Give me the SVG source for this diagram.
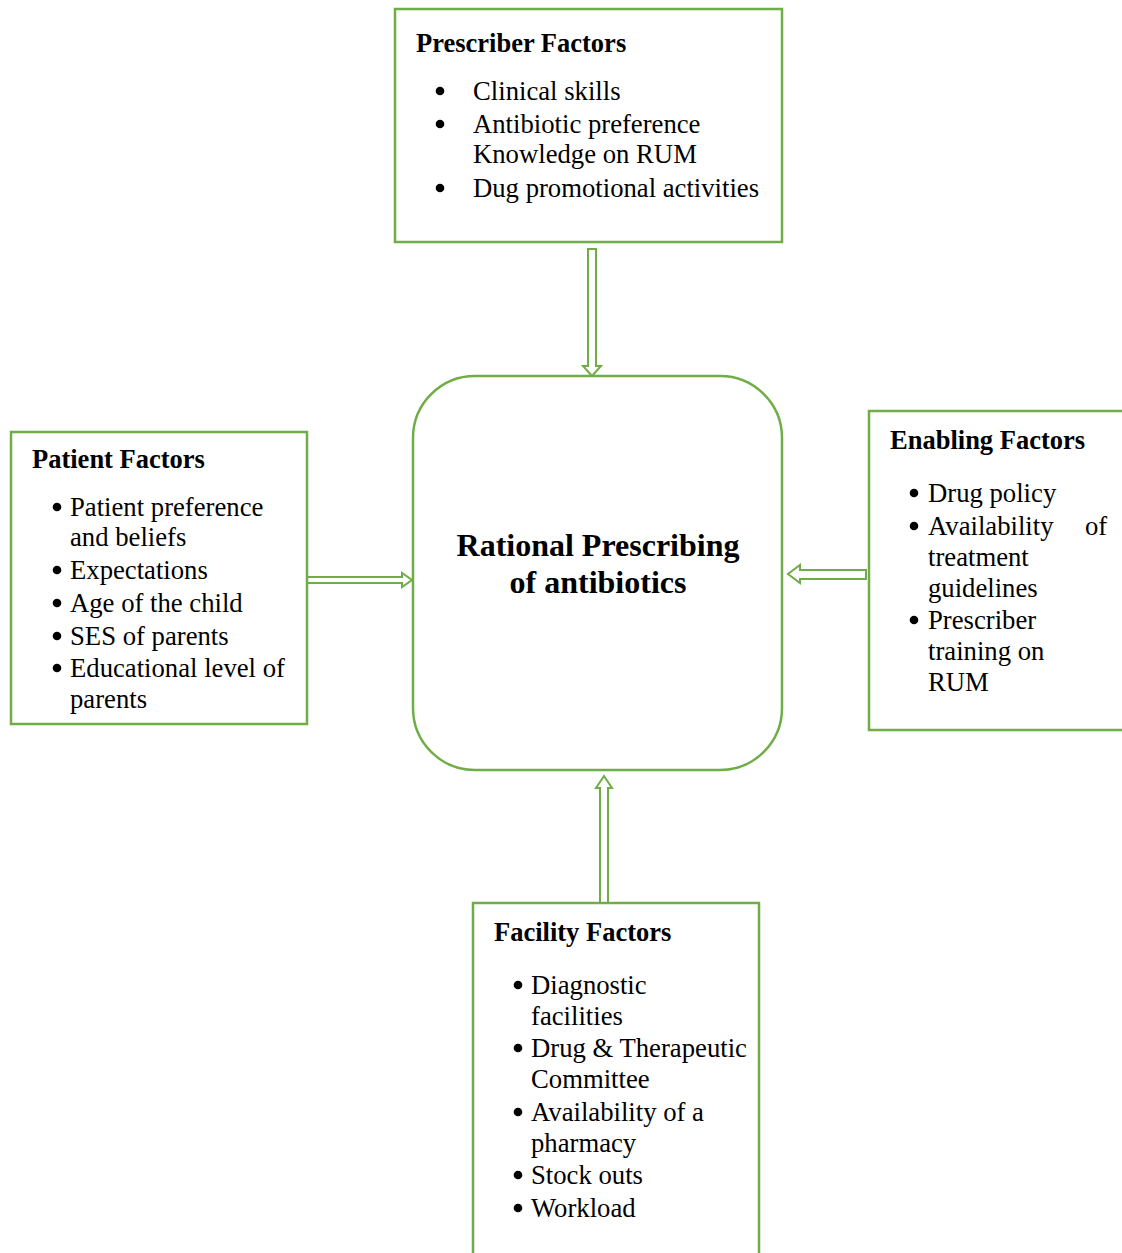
<svg xmlns="http://www.w3.org/2000/svg" width="1122" height="1253" viewBox="0 0 1122 1253">
<style>
.box{fill:#fff;stroke:#70AD47;stroke-width:2.5}
.arr{fill:#fff;stroke:#70AD47;stroke-width:2}
.dot{fill:#000}
text{font-family:"Liberation Serif","Times New Roman",serif;fill:#000}
.t{font-size:26.5px;font-weight:bold}
.b{font-size:26.7px}
.c{font-size:32px;font-weight:bold;text-anchor:middle}
</style>
<rect width="1122" height="1253" fill="#fff"/>
<g id="connectors">
<path class="arr" d="M588,249 H596 V366 H601 L592,376 L583,366 H588 Z"/>
<path class="arr" d="M307,577 H402 V573 L412,580 L402,587 V583 H307 Z"/>
<path class="arr" d="M866,570 H800 V565 L788,574 L800,583 V579 H866 Z"/>
<path class="arr" d="M600,903 V788 H596 L604,776 L612,788 H608 V903 Z"/>
</g>
<g id="prescriber">
<rect class="box" x="395" y="9" width="387" height="233"/>
<text class="t" x="416" y="52">Prescriber Factors</text>
<circle class="dot" cx="440" cy="91" r="4.3"/><text class="b" x="473" y="100">Clinical skills</text>
<circle class="dot" cx="440" cy="124" r="4.3"/><text class="b" x="473" y="133">Antibiotic preference</text>
<text class="b" x="473" y="163">Knowledge on RUM</text>
<circle class="dot" cx="440" cy="188" r="4.3"/><text class="b" x="473" y="197">Dug promotional activities</text>
</g>
<g id="center">
<rect class="box" x="413" y="376" width="369" height="394" rx="62" ry="62"/>
<text class="c" x="598" y="556">Rational Prescribing</text>
<text class="c" x="598" y="593">of antibiotics</text>
</g>
<g id="patient">
<rect class="box" x="11" y="432" width="296" height="292"/>
<text class="t" x="32" y="468">Patient Factors</text>
<circle class="dot" cx="57" cy="507" r="4.3"/><text class="b" x="70" y="516">Patient preference</text>
<text class="b" x="70" y="546">and beliefs</text>
<circle class="dot" cx="57" cy="570" r="4.3"/><text class="b" x="70" y="579">Expectations</text>
<circle class="dot" cx="57" cy="603" r="4.3"/><text class="b" x="70" y="612">Age of the child</text>
<circle class="dot" cx="57" cy="636" r="4.3"/><text class="b" x="70" y="645">SES of parents</text>
<circle class="dot" cx="57" cy="668" r="4.3"/><text class="b" x="70" y="677">Educational level of</text>
<text class="b" x="70" y="708">parents</text>
</g>
<g id="enabling">
<rect class="box" x="869" y="411" width="260" height="319"/>
<text class="t" x="890" y="449">Enabling Factors</text>
<circle class="dot" cx="914" cy="493" r="4.3"/><text class="b" x="928" y="502">Drug policy</text>
<circle class="dot" cx="914" cy="526" r="4.3"/><text class="b" x="928" y="535">Availability</text><text class="b" x="1085" y="535">of</text>
<text class="b" x="928" y="566">treatment</text>
<text class="b" x="928" y="597">guidelines</text>
<circle class="dot" cx="914" cy="620" r="4.3"/><text class="b" x="928" y="629">Prescriber</text>
<text class="b" x="928" y="660">training on</text>
<text class="b" x="928" y="691">RUM</text>
</g>
<g id="facility">
<rect class="box" x="473" y="903" width="286" height="360"/>
<text class="t" x="494" y="941">Facility Factors</text>
<circle class="dot" cx="518" cy="985" r="4.3"/><text class="b" x="531" y="994">Diagnostic</text>
<text class="b" x="531" y="1025">facilities</text>
<circle class="dot" cx="518" cy="1048" r="4.3"/><text class="b" x="531" y="1057">Drug &amp; Therapeutic</text>
<text class="b" x="531" y="1088">Committee</text>
<circle class="dot" cx="518" cy="1112" r="4.3"/><text class="b" x="531" y="1121">Availability of a</text>
<text class="b" x="531" y="1152">pharmacy</text>
<circle class="dot" cx="518" cy="1175" r="4.3"/><text class="b" x="531" y="1184">Stock outs</text>
<circle class="dot" cx="518" cy="1208" r="4.3"/><text class="b" x="531" y="1217">Workload</text>
</g>
</svg>
